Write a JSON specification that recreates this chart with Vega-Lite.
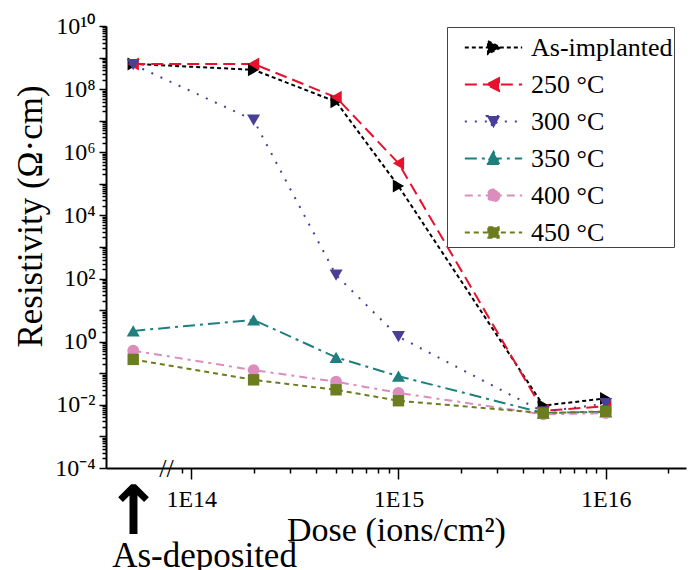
{
  "$schema": "https://vega.github.io/schema/vega-lite/v6.json",
  "autosize": "none",
  "width": 580,
  "height": 442,
  "padding": {"left": 106, "top": 26, "right": 11, "bottom": 102},
  "background": "white",
  "config": {"view": {"stroke": null}},
  "datasets": {
    "meas": [
      {"series": "As-implanted", "dose": 5.25e13, "rho": 6.3e8},
      {"series": "As-implanted", "dose": 2e14, "rho": 4.1e8},
      {"series": "As-implanted", "dose": 5e14, "rho": 4e7},
      {"series": "As-implanted", "dose": 1e15, "rho": 8.5e4},
      {"series": "As-implanted", "dose": 5e15, "rho": 0.0095},
      {"series": "As-implanted", "dose": 1e16, "rho": 0.016},
      {"series": "250 °C", "dose": 5.25e13, "rho": 6.3e8},
      {"series": "250 °C", "dose": 2e14, "rho": 6.3e8},
      {"series": "250 °C", "dose": 5e14, "rho": 5.5e7},
      {"series": "250 °C", "dose": 1e15, "rho": 4.5e5},
      {"series": "250 °C", "dose": 5e15, "rho": 0.0065},
      {"series": "250 °C", "dose": 1e16, "rho": 0.009},
      {"series": "300 °C", "dose": 5.25e13, "rho": 6.0e8},
      {"series": "300 °C", "dose": 2e14, "rho": 1.05e7},
      {"series": "300 °C", "dose": 5e14, "rho": 129},
      {"series": "300 °C", "dose": 1e15, "rho": 1.44},
      {"series": "300 °C", "dose": 5e15, "rho": 0.006},
      {"series": "300 °C", "dose": 1e16, "rho": 0.011},
      {"series": "350 °C", "dose": 5.25e13, "rho": 2.2},
      {"series": "350 °C", "dose": 2e14, "rho": 4.9},
      {"series": "350 °C", "dose": 5e14, "rho": 0.32},
      {"series": "350 °C", "dose": 1e15, "rho": 0.081},
      {"series": "350 °C", "dose": 5e15, "rho": 0.0055},
      {"series": "350 °C", "dose": 1e16, "rho": 0.006},
      {"series": "400 °C", "dose": 5.25e13, "rho": 0.52},
      {"series": "400 °C", "dose": 2e14, "rho": 0.126},
      {"series": "400 °C", "dose": 5e14, "rho": 0.054},
      {"series": "400 °C", "dose": 1e15, "rho": 0.024},
      {"series": "400 °C", "dose": 5e15, "rho": 0.005},
      {"series": "400 °C", "dose": 1e16, "rho": 0.0055},
      {"series": "450 °C", "dose": 5.25e13, "rho": 0.275},
      {"series": "450 °C", "dose": 2e14, "rho": 0.062},
      {"series": "450 °C", "dose": 5e14, "rho": 0.030},
      {"series": "450 °C", "dose": 1e15, "rho": 0.0135},
      {"series": "450 °C", "dose": 5e15, "rho": 0.0055},
      {"series": "450 °C", "dose": 1e16, "rho": 0.0062}
    ],
    "notes": [
      {"dose": 7.6e13, "rho": 1e-4, "kind": "break", "t": "//"},
      {"dose": 5.25e13, "rho": 1e-4, "kind": "arrow", "t": "↑"},
      {"dose": 5.25e13, "rho": 1e-4, "kind": "label", "t": "As-deposited"}
    ]
  },
  "layer": [
    {
      "data": {"name": "meas"},
      "mark": {"type": "line", "strokeWidth": 2, "clip": false},
      "encoding": {
        "x": {
          "field": "dose", "type": "quantitative",
          "scale": {"type": "log", "domain": [3.88e13, 2.44e16], "nice": false},
          "axis": {
            "values": [9e13, 1e14, 2e14, 3e14, 4e14, 5e14, 6e14, 7e14, 8e14, 9e14, 1e15, 2e15, 3e15, 4e15, 5e15, 6e15, 7e15, 8e15, 9e15, 1e16, 2e16],
            "labelExpr": "datum.value==1e14?'1E14':datum.value==1e15?'1E15':datum.value==1e16?'1E16':''",
            "tickSize": {"condition": {"test": "abs(log(datum.value)/LN10 - round(log(datum.value)/LN10)) < 0.001", "value": 11}, "value": 5},
            "tickColor": "black", "tickWidth": 1.5,
            "domainColor": "black", "domainWidth": 2,
            "grid": false,
            "labelFont": "Liberation Serif", "labelFontSize": 24, "labelColor": "black", "labelPadding": 8,
            "labelOverlap": false, "labelFlush": false, "labelBound": false,
            "title": "Dose (ions/cm²)", "titleFont": "Liberation Serif", "titleFontSize": 34,
            "titleFontWeight": "normal", "titleColor": "black", "titlePadding": 2
          }
        },
        "y": {
          "field": "rho", "type": "quantitative",
          "scale": {"type": "log", "domain": [1e-4, 1e10], "nice": false},
          "axis": {
            "values": [1e-4,2e-4,3e-4,4e-4,5e-4,6e-4,7e-4,8e-4,9e-4,1e-3,2e-3,3e-3,4e-3,5e-3,6e-3,7e-3,8e-3,9e-3,1e-2,2e-2,3e-2,4e-2,5e-2,6e-2,7e-2,8e-2,9e-2,1e-1,2e-1,3e-1,4e-1,5e-1,6e-1,7e-1,8e-1,9e-1,1,2,3,4,5,6,7,8,9,10,20,30,40,50,60,70,80,90,100,200,300,400,500,600,700,800,900,1e3,2e3,3e3,4e3,5e3,6e3,7e3,8e3,9e3,1e4,2e4,3e4,4e4,5e4,6e4,7e4,8e4,9e4,1e5,2e5,3e5,4e5,5e5,6e5,7e5,8e5,9e5,1e6,2e6,3e6,4e6,5e6,6e6,7e6,8e6,9e6,1e7,2e7,3e7,4e7,5e7,6e7,7e7,8e7,9e7,1e8,2e8,3e8,4e8,5e8,6e8,7e8,8e8,9e8,1e9,2e9,3e9,4e9,5e9,6e9,7e9,8e9,9e9,1e10],
            "labelExpr": "datum.value==1e10?'10¹⁰':datum.value==1e8?'10⁸':datum.value==1e6?'10⁶':datum.value==1e4?'10⁴':datum.value==100?'10²':datum.value==1?'10⁰':datum.value==0.01?'10⁻²':datum.value==0.0001?'10⁻⁴':''",
            "tickSize": {"condition": {"test": "abs(log(datum.value)/LN10 - round(log(datum.value)/LN10)) < 0.001", "value": 7}, "value": 4},
            "tickColor": "black", "tickWidth": 1.5,
            "domainColor": "black", "domainWidth": 2,
            "grid": false,
            "labelFont": "Liberation Serif", "labelFontSize": 24, "labelColor": "black", "labelPadding": 4,
            "labelOverlap": false, "labelFlush": false, "labelBound": false,
            "title": "Resistivity (Ω·cm)", "titleFont": "Liberation Serif", "titleFontSize": 35,
            "titleFontWeight": "normal", "titleColor": "black", "titlePadding": 6, "titleY": 190
          }
        },
        "color": {
          "field": "series", "type": "nominal",
          "scale": {
            "domain": ["As-implanted", "250 °C", "300 °C", "350 °C", "400 °C", "450 °C"],
            "range": ["#000000", "#E8112D", "#4A3F96", "#1F7F7F", "#DB8DBE", "#6B7D1E"]
          },
          "legend": {
            "title": null,
            "orient": "none", "legendX": 341, "legendY": 1,
            "strokeColor": "#444", "fillColor": "white",
            "padding": 1,
            "symbolSize": 1369, "symbolStrokeWidth": 2, "symbolOffset": 26,
            "labelFont": "Liberation Serif", "labelFontSize": 26, "labelColor": "black",
            "labelOffset": 18, "rowPadding": 4,
            "labelExpr": "datum.index === 0 ? datum.label + '  ' : datum.label",
            "encode": {
              "symbols": {
                "update": {
                  "shape": {"signal": "['M-1.55,0H1.55M-0.3,-0.35L0.38,0L-0.3,0.35Z','M-1.55,0H1.55M0.3,-0.35L-0.38,0L0.3,0.35Z','M-1.55,0H1.55M-0.36,-0.3L0.36,-0.3L0,0.36Z','M-1.55,0H1.55M-0.36,0.3L0.36,0.3L0,-0.36Z','M-1.55,0H1.55M0.32,0A0.32,0.32,0,1,1,-0.32,0A0.32,0.32,0,1,1,0.32,0Z','M-1.55,0H1.55M-0.28,-0.28H0.28V0.28H-0.28Z'][datum.index]"},
                  "strokeDash": {"signal": "[[4,3],[12,6],[2,8],[12,5,3,5],[8,5,3,5],[5,4]][datum.index]"},
                  "fill": {"signal": "scale('color', datum.value)"},
                  "stroke": {"signal": "scale('color', datum.value)"},
                  "strokeWidth": {"value": 2},
                  "opacity": {"value": 1},
                  "fillOpacity": {"value": 1}
                }
              }
            }
          }
        },
        "strokeDash": {
          "field": "series", "type": "nominal",
          "scale": {
            "domain": ["As-implanted", "250 °C", "300 °C", "350 °C", "400 °C", "450 °C"],
            "range": [[4, 3], [12, 6], [2, 8], [12, 5, 3, 5], [8, 5, 3, 5], [5, 4]]
          },
          "legend": null
        }
      }
    },
    {
      "data": {"name": "meas"},
      "transform": [{"filter": "datum.series === 'As-implanted'"}],
      "mark": {"type": "point", "filled": true, "opacity": 1, "size": 170, "shape": "triangle-right", "clip": false},
      "encoding": {
        "x": {"field": "dose", "type": "quantitative"},
        "y": {"field": "rho", "type": "quantitative"},
        "color": {"field": "series", "type": "nominal"}
      }
    },
    {
      "data": {"name": "meas"},
      "transform": [{"filter": "datum.series === '250 °C'"}],
      "mark": {"type": "point", "filled": true, "opacity": 1, "size": 170, "shape": "triangle-left", "clip": false},
      "encoding": {
        "x": {"field": "dose", "type": "quantitative"},
        "y": {"field": "rho", "type": "quantitative"},
        "color": {"field": "series", "type": "nominal"}
      }
    },
    {
      "data": {"name": "meas"},
      "transform": [{"filter": "datum.series === '300 °C'"}],
      "mark": {"type": "point", "filled": true, "opacity": 1, "size": 170, "shape": "triangle-down", "clip": false},
      "encoding": {
        "x": {"field": "dose", "type": "quantitative"},
        "y": {"field": "rho", "type": "quantitative"},
        "color": {"field": "series", "type": "nominal"}
      }
    },
    {
      "data": {"name": "meas"},
      "transform": [{"filter": "datum.series === '350 °C'"}],
      "mark": {"type": "point", "filled": true, "opacity": 1, "size": 170, "shape": "triangle-up", "clip": false},
      "encoding": {
        "x": {"field": "dose", "type": "quantitative"},
        "y": {"field": "rho", "type": "quantitative"},
        "color": {"field": "series", "type": "nominal"}
      }
    },
    {
      "data": {"name": "meas"},
      "transform": [{"filter": "datum.series === '400 °C'"}],
      "mark": {"type": "point", "filled": true, "opacity": 1, "size": 140, "shape": "circle", "clip": false},
      "encoding": {
        "x": {"field": "dose", "type": "quantitative"},
        "y": {"field": "rho", "type": "quantitative"},
        "color": {"field": "series", "type": "nominal"}
      }
    },
    {
      "data": {"name": "meas"},
      "transform": [{"filter": "datum.series === '450 °C'"}],
      "mark": {"type": "point", "filled": true, "opacity": 1, "size": 130, "shape": "square", "clip": false},
      "encoding": {
        "x": {"field": "dose", "type": "quantitative"},
        "y": {"field": "rho", "type": "quantitative"},
        "color": {"field": "series", "type": "nominal"}
      }
    },
    {
      "data": {"name": "notes"},
      "transform": [{"filter": "datum.kind === 'break'"}],
      "mark": {"type": "text", "font": "Liberation Serif", "fontSize": 26, "align": "center", "baseline": "middle", "dy": 1, "color": "black", "clip": false},
      "encoding": {
        "x": {"field": "dose", "type": "quantitative"},
        "y": {"field": "rho", "type": "quantitative"},
        "text": {"field": "t"}
      }
    },
    {
      "data": {"name": "notes"},
      "transform": [{"filter": "datum.kind === 'arrow'"}],
      "mark": {"type": "text", "font": "DejaVu Sans", "fontWeight": "bold", "fontSize": 68, "align": "center", "baseline": "top", "dy": 12, "color": "black", "clip": false},
      "encoding": {
        "x": {"field": "dose", "type": "quantitative"},
        "y": {"field": "rho", "type": "quantitative"},
        "text": {"field": "t"}
      }
    },
    {
      "data": {"name": "notes"},
      "transform": [{"filter": "datum.kind === 'label'"}],
      "mark": {"type": "text", "font": "Liberation Serif", "fontSize": 35, "align": "left", "baseline": "alphabetic", "dx": -21, "dy": 99, "color": "black", "clip": false},
      "encoding": {
        "x": {"field": "dose", "type": "quantitative"},
        "y": {"field": "rho", "type": "quantitative"},
        "text": {"field": "t"}
      }
    }
  ]
}
